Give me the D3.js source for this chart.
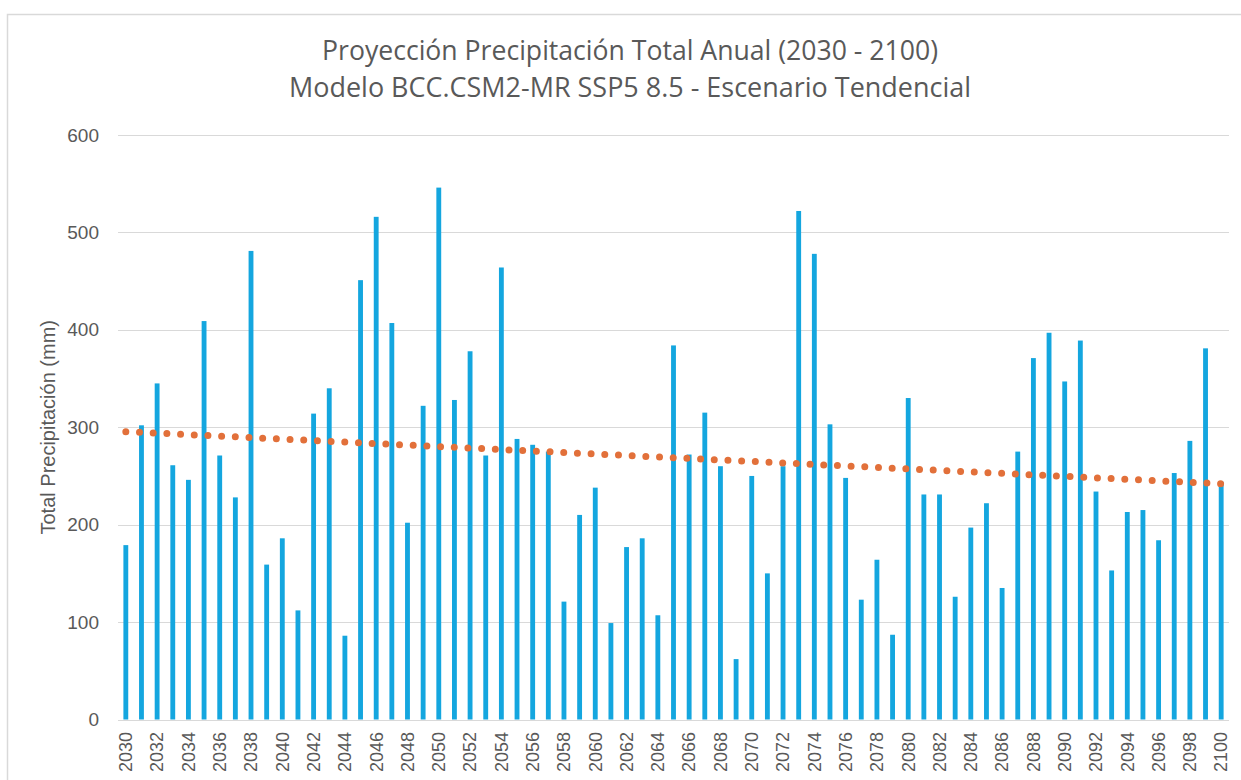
<!DOCTYPE html>
<html>
<head>
<meta charset="utf-8">
<script src="https://cdn.jsdelivr.net/npm/d3@7"></script>
<style>
  html, body { margin: 0; padding: 0; background: #fff; }
  svg { display: block; }
</style>
</head>
<body>
<div id="chart"></div>
<script>
var titleLines = ["Proyección Precipitación Total Anual (2030 - 2100)",
  "Modelo BCC.CSM2-MR SSP5 8.5 - Escenario Tendencial"]
var yLabel = "Total Precipitación (mm)"

var years = [2030, 2031, 2032, 2033, 2034, 2035, 2036, 2037, 2038, 2039,
  2040, 2041, 2042, 2043, 2044, 2045, 2046, 2047, 2048, 2049,
  2050, 2051, 2052, 2053, 2054, 2055, 2056, 2057, 2058, 2059,
  2060, 2061, 2062, 2063, 2064, 2065, 2066, 2067, 2068, 2069,
  2070, 2071, 2072, 2073, 2074, 2075, 2076, 2077, 2078, 2079,
  2080, 2081, 2082, 2083, 2084, 2085, 2086, 2087, 2088, 2089,
  2090, 2091, 2092, 2093, 2094, 2095, 2096, 2097, 2098, 2099, 2100]

var precip = [179, 302, 345, 261, 246, 409, 271, 228, 481, 159,
  186, 112, 314, 340, 86, 451, 516, 407, 202, 322,
  546, 328, 378, 271, 464, 288, 282, 275, 121, 210,
  238, 99, 177, 186, 107, 384, 272, 315, 260, 62,
  250, 150, 260, 522, 478, 303, 248, 123, 164, 87,
  330, 231, 231, 126, 197, 222, 135, 275, 371, 397,
  347, 389, 234, 153, 213, 215, 184, 253, 286, 381, 244]

var yTicks = [0, 100, 200, 300, 400, 500, 600]
var xTicks = years.filter(function(d) { return (d - 2030) % 2 === 0 })

var W = 1241, H = 780
var plot = {left: 118, right: 1229, top: 135, bottom: 719.5}

var svg = d3.select('#chart').append('svg')
  .attr('width', W)
  .attr('height', H)

// chart frame
svg.append('rect')
  .attr('x', 7.5).attr('y', 14.5)
  .attr('width', W + 10).attr('height', H + 10)
  .attr('fill', '#fff')
  .attr('stroke', '#d9d9d9')
  .attr('stroke-width', 1.5)

var x = d3.scaleBand()
  .domain(years)
  .range([plot.left, plot.right])
  .paddingInner(0.69)
  .paddingOuter(0.345)

var y = d3.scaleLinear()
  .domain([0, 600])
  .range([plot.bottom, plot.top])

// gridlines
svg.append('g')
  .selectAll('line')
  .data(yTicks)
  .enter()
  .append('line')
  .attr('x1', plot.left)
  .attr('x2', plot.right)
  .attr('y1', d => Math.round(y(d)) + 0.5)
  .attr('y2', d => Math.round(y(d)) + 0.5)
  .attr('stroke', '#d9d9d9')
  .attr('stroke-width', 1.2)

// y axis labels
svg.append('g')
  .selectAll('text')
  .data(yTicks)
  .enter()
  .append('text')
  .attr('x', 99)
  .attr('y', d => y(d))
  .attr('dy', '0.35em')
  .attr('text-anchor', 'end')
  .attr('fill', '#595959')
  .style('font-family', '"Liberation Sans", Arial, sans-serif')
  .style('font-size', '19px')
  .text(d => d)

// bars
svg.append('g')
  .selectAll('rect')
  .data(years)
  .enter()
  .append('rect')
  .attr('x', d => x(d))
  .attr('width', x.bandwidth())
  .attr('y', (d, i) => y(precip[i]))
  .attr('height', (d, i) => y(0) - y(precip[i]))
  .attr('fill', '#14a6df')

// x axis labels, rotated
var cx = d => x(d) + x.bandwidth() / 2
svg.append('g')
  .selectAll('text')
  .data(xTicks)
  .enter()
  .append('text')
  .attr('transform', d => 'translate(' + cx(d) + ',' + 732 + ') rotate(-90)')
  .attr('dy', '0.35em')
  .attr('text-anchor', 'end')
  .attr('fill', '#595959')
  .style('font-family', '"Liberation Sans", Arial, sans-serif')
  .style('font-size', '18px')
  .text(d => d)

// linear trendline (least squares over the bars)
var mx = d3.mean(years), my = d3.mean(precip)
var sxy = d3.sum(years, (d, i) => (d - mx) * (precip[i] - my))
var sxx = d3.sum(years, d => (d - mx) * (d - mx))
var slope = sxy / sxx
var trend = [years[0], years[years.length - 1]].map(d => [d, my + slope * (d - mx)])

svg.append('path')
  .datum(trend)
  .attr('d', d3.line().x(d => cx(d[0])).y(d => y(d[1])))
  .attr('fill', 'none')
  .attr('stroke', '#e2703a')
  .attr('stroke-width', 7)
  .attr('stroke-linecap', 'round')
  .attr('stroke-dasharray', '0 13.7')

// y axis title
svg.append('text')
  .attr('transform', 'translate(48,' + (plot.top + plot.bottom) / 2 + ') rotate(-90)')
  .attr('dy', '0.35em')
  .attr('text-anchor', 'middle')
  .attr('fill', '#595959')
  .style('font-family', '"Liberation Sans", Arial, sans-serif')
  .style('font-size', '20px')
  .text(yLabel)

// title
var titleSpec = [{y: 60, w: 616}, {y: 97, w: 682}]
svg.append('g')
  .selectAll('text')
  .data(titleLines)
  .enter()
  .append('text')
  .attr('x', 630)
  .attr('y', (d, i) => titleSpec[i].y)
  .attr('text-anchor', 'middle')
  .attr('textLength', (d, i) => titleSpec[i].w)
  .attr('lengthAdjust', 'spacingAndGlyphs')
  .attr('fill', '#595959')
  .style('font-family', '"Open Sans", "Noto Sans", sans-serif')
  .style('font-size', '27px')
  .text(d => d)
</script>
</body>
</html>
